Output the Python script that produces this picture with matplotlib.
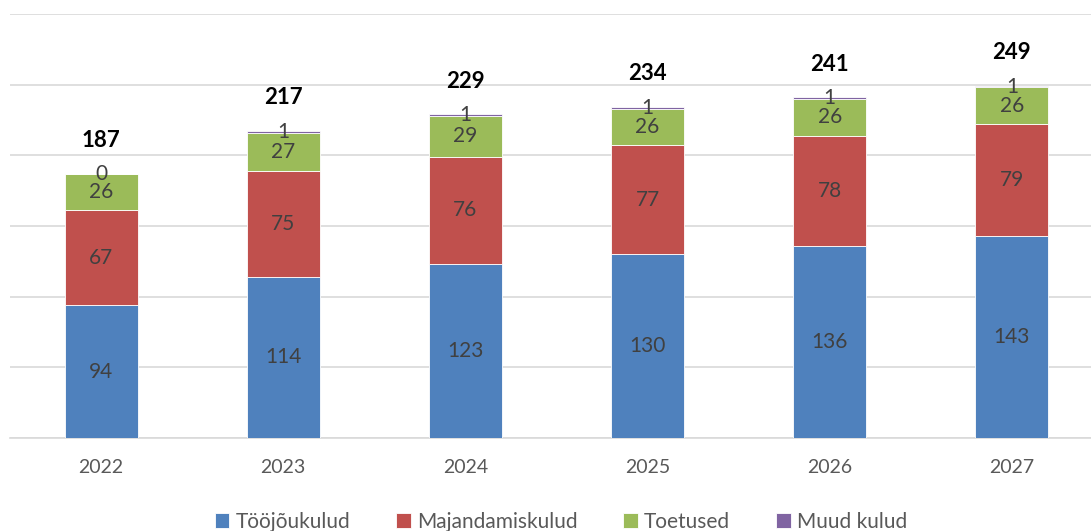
import matplotlib.pyplot as plt
import numpy as np

plt.rcParams['font.family'] = ['Lato', 'DejaVu Sans']

years = ['2022', '2023', '2024', '2025', '2026', '2027']
toojoukulud = [94, 114, 123, 130, 136, 143]
majandamiskulud = [67, 75, 76, 77, 78, 79]
toetused = [26, 27, 29, 26, 26, 26]
muud_kulud = [0, 1, 1, 1, 1, 1]
totals = [187, 217, 229, 234, 241, 249]

series = [
    ('Tööjõukulud', toojoukulud, '#4F81BD'),
    ('Majandamiskulud', majandamiskulud, '#C0504D'),
    ('Toetused', toetused, '#9BBB59'),
    ('Muud kulud', muud_kulud, '#8064A2'),
]

fig = plt.figure(figsize=(10.91, 5.31), dpi=100)
ax = fig.add_axes([10 / 1091, 1 - 438 / 531, 1093 / 1091, 424 / 531])

x = np.arange(len(years))
bottom = np.zeros(len(years))
for name, vals, color in series:
    vals = np.array(vals, dtype=float)
    ax.bar(x, vals, 0.4, bottom=bottom, color=color, label=name,
           edgecolor='white', linewidth=0.6, zorder=3)
    for xi, b, v in zip(x, bottom, vals):
        ax.text(xi, b + v / 2, f'{int(v)}', ha='center', va='center',
                fontsize=15, color='#404040', zorder=4)
    bottom += vals

# totals above bars
for xi, t in zip(x, totals):
    ax.annotate(f'{t}', (xi, t), xytext=(0, 24), textcoords='offset points',
                ha='center', va='center', fontsize=16, fontweight='bold',
                color='black')

ax.set_xlim(-0.5, 5.5)
ax.set_ylim(0, 300)
ax.set_yticks(np.arange(0, 301, 50))
ax.yaxis.grid(True, color='#D9D9D9', linewidth=1.2, zorder=0)
ax.set_yticklabels([])
ax.tick_params(axis='y', length=0)
ax.set_xticks(x)
ax.set_xticklabels(years, fontsize=14, color='#595959')
ax.tick_params(axis='x', length=0, pad=15)
for s in ['top', 'right', 'left']:
    ax.spines[s].set_visible(False)
ax.spines['bottom'].set_color('#D9D9D9')
ax.spines['bottom'].set_linewidth(1.2)

fig.legend(loc='center', bbox_to_anchor=(561 / 1091, 1 - 522 / 531),
           ncol=4, frameon=False, fontsize=15, handlelength=0.7,
           handleheight=0.7, handletextpad=0.3, columnspacing=2.2,
           labelcolor='#595959')

fig.savefig('out.png', dpi=100)
